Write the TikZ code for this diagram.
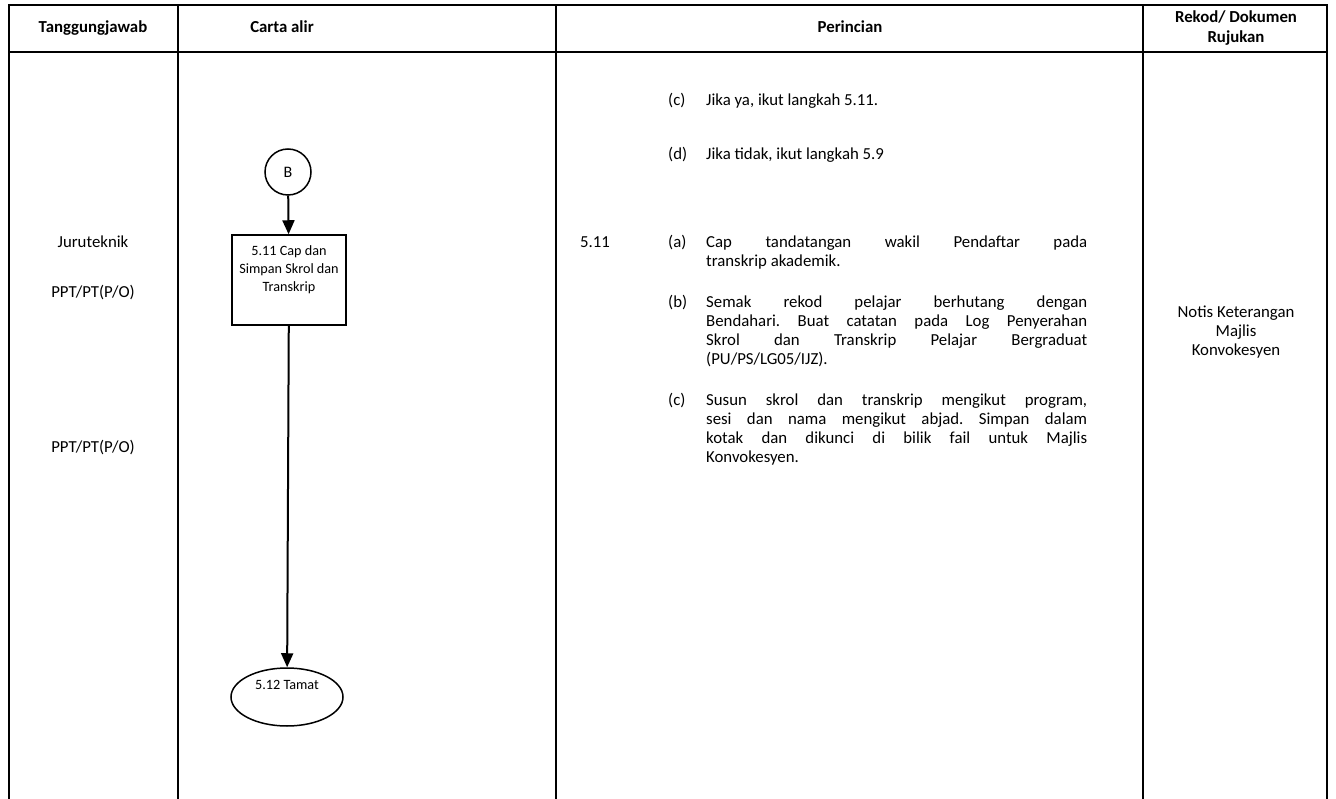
\documentclass[tikz,border=0pt]{standalone}
\usepackage{fontspec}
\setmainfont{Carlito}
\usetikzlibrary{arrows.meta,shapes.geometric}
\hyphenpenalty=10000
\exhyphenpenalty=10000
\frenchspacing

\begin{document}
\begin{tikzpicture}[x=1pt,y=-1pt,
  rule/.style={line width=2pt},
  body/.style={font=\fontsize{16.8}{19}\selectfont, inner sep=0pt},
  head/.style={inner sep=0pt, font=\fontsize{16.8}{20}\selectfont\bfseries, align=center, anchor=base},
  cell/.style={body, align=center, anchor=base},
  para/.style={body, text width=381pt, align=justify, anchor=base west},
  lbl/.style={body, anchor=base west},
  flow/.style={font=\fontsize{14.2}{18}\selectfont, draw, line width=1.5pt, align=center, inner sep=0pt},
  arr/.style={line width=2pt, -{Triangle[width=12pt,length=14pt]}}
]
\useasboundingbox (0,0) rectangle (1336,799);

% table frame
\draw[rule] (9,799) -- (9,5) -- (1327,5) -- (1327,799);
\draw[rule] (9,52) -- (1327,52);
\foreach \cx in {178,556,1143} \draw[rule] (\cx,5) -- (\cx,799);

% header
\node[head] (h1) at (93,33) {Tanggungjawab};
\node[head] (h2) at (282,33) {Carta alir};
\node[head] (h3) at (850,33) {Perincian};
\node[head] (h4) at (1236,43) {Rekod/ Dokumen\\Rujukan};

% responsibility column
\node[cell] (r1) at (93,248) {Juruteknik};
\node[cell] (r2) at (93,298) {PPT/PT(P/O)};
\node[cell] (r3) at (93,452) {PPT/PT(P/O)};

% flowchart
\node[flow, circle, minimum size=46pt, font=\fontsize{16}{18}\selectfont] (B) at (288,172) {B};
\node[flow, rectangle, minimum width=114pt, minimum height=90pt] (s511) at (289,280)
  {5.11 Cap dan\\Simpan Skrol dan\\Transkrip\\\strut};
\node[flow, ellipse, minimum width=112pt, minimum height=58pt] (s512) at (287,697)
  {5.12 Tamat\\\strut};
\draw[arr] (B) -- (s511);
\draw[arr] (s511) -- (s512);

% details column
\node[lbl] (pc) at (668,106) {(c)};
\node[lbl] (tc) at (706,106) {Jika ya, ikut langkah 5.11.};
\node[lbl] (pd) at (668,160) {(d)};
\node[lbl] (td) at (706,160) {Jika tidak, ikut langkah 5.9};

\node[lbl] (n511) at (580,248) {5.11};
\node[lbl] (pa) at (668,248) {(a)};
\node[para] (ta) at (706,248) {Cap tandatangan wakil Pendaftar pada\linebreak transkrip akademik.};
\node[lbl] (pb) at (668,308) {(b)};
\node[para] (tb) at (706,308) {Semak rekod pelajar berhutang dengan\linebreak Bendahari. Buat catatan pada Log Penyerahan\linebreak Skrol dan Transkrip Pelajar Bergraduat\linebreak (PU/PS/LG05/IJZ).};
\node[lbl] (pc2) at (668,406) {(c)};
\node[para] (tc2) at (706,406) {Susun skrol dan transkrip mengikut program,\linebreak sesi dan nama mengikut abjad. Simpan dalam\linebreak kotak dan dikunci di bilik fail untuk Majlis\linebreak Konvokesyen.};

% records column
\node[cell] (rek) at (1236,356) {Notis Keterangan\\Majlis\\Konvokesyen};
\end{tikzpicture}
\end{document}
